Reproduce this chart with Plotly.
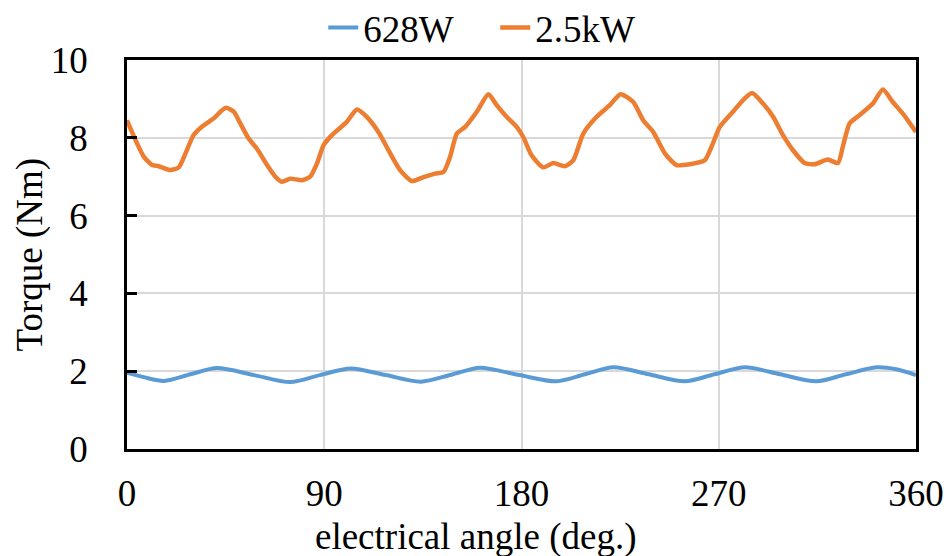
import plotly.graph_objects as go

# Electrical angle (deg.) and torque (Nm) for the two load cases
angle_628w = [0, 8, 17, 29, 41, 58, 74.5, 88, 102, 118, 134, 148, 161, 179, 196,
              209, 222, 238, 254.5, 268, 282, 298, 314.5, 328, 342, 351, 360]
torque_628w = [1.96, 1.84, 1.75, 1.92, 2.08, 1.90, 1.72, 1.90, 2.07, 1.90, 1.73,
               1.91, 2.09, 1.90, 1.74, 1.92, 2.10, 1.92, 1.74, 1.92, 2.10, 1.92,
               1.74, 1.92, 2.10, 2.05, 1.90]

angle_2k5w = [0, 3.9, 7.7, 11.5, 14.5, 19.8, 23.6, 26.7, 30.4, 35, 39.6, 42.6, 45.3,
              48.7, 51.7, 55.5, 59.3, 63.9, 67.7, 70.7, 74.5, 79.8, 83.6, 86.7, 89.7,
              93.5, 100.3, 104.9, 109.4, 114.7, 120.1, 124.6, 130, 135.3, 140.6,
              144.4, 147.4, 150.5, 154.3, 159.6, 164.9, 168.7, 173.2, 177.8, 180.8,
              184.6, 189.9, 194.5, 199.8, 203.6, 208.2, 214.3, 220.3, 225.2, 231,
              235.5, 240.1, 245.4, 250.7, 256.8, 263.6, 266.7, 270.5, 276.5, 281.1,
              285.2, 290.2, 294.8, 299.3, 303.9, 309.2, 313.7, 319.8, 324.4, 326.6,
              329.7, 334.2, 340.3, 344.9, 349.4, 354, 360]
torque_2k5w = [8.45, 7.94, 7.51, 7.30, 7.27, 7.17, 7.24, 7.60, 8.07, 8.32, 8.50, 8.67,
               8.77, 8.67, 8.37, 7.98, 7.72, 7.30, 7.00, 6.87, 6.95, 6.91, 7.00, 7.34,
               7.81, 8.07, 8.41, 8.73, 8.54, 8.15, 7.60, 7.17, 6.89, 6.99, 7.08, 7.12,
               7.51, 8.11, 8.28, 8.67, 9.12, 8.84, 8.54, 8.28, 8.02, 7.55, 7.24, 7.35,
               7.27, 7.42, 8.11, 8.54, 8.84, 9.12, 8.92, 8.45, 8.15, 7.60, 7.30, 7.32,
               7.42, 7.77, 8.28, 8.67, 8.97, 9.15, 8.88, 8.54, 8.07, 7.68, 7.35, 7.32,
               7.44, 7.35, 7.77, 8.37, 8.58, 8.88, 9.24, 8.92, 8.62, 8.15]

x_ticks = [0, 90, 180, 270, 360]
y_ticks = [0, 2, 4, 6, 8, 10]

FONT = "Liberation Serif"
W, H = 946, 556
L, R, T, B = 126.5, 29.5, 60, 107
PW, PH = W - L - R, H - T - B


def px_to_paper_x(px):
    return (px - L) / PW


def px_to_paper_y(py):
    return (H - B - py) / PH


fig = go.Figure()
fig.add_trace(go.Scatter(x=angle_628w, y=torque_628w, mode="lines", name="628W",
                         line=dict(color="#5B9BD5", width=4, shape="spline", smoothing=0.8)))
fig.add_trace(go.Scatter(x=angle_2k5w, y=torque_2k5w, mode="lines", name="2.5kW",
                         line=dict(color="#ED7D31", width=4.5, shape="spline", smoothing=0.6)))

fig.update_layout(
    width=W, height=H,
    margin=dict(l=L, r=R, t=T, b=B, autoexpand=False),
    paper_bgcolor="white", plot_bgcolor="white",
    font=dict(family=FONT, size=37, color="black"),
    showlegend=True,
    legend=dict(orientation="h", x=px_to_paper_x(323), xanchor="left",
                y=px_to_paper_y(28), yanchor="middle",
                font=dict(family=FONT, size=37), entrywidth=127,
                entrywidthmode="pixels", bgcolor="rgba(0,0,0,0)"),
    xaxis=dict(range=[0, 360], tickvals=x_ticks, ticks="", showgrid=True,
               gridcolor="#d9d9d9", gridwidth=1.5, showline=True, linecolor="black",
               linewidth=2.5, mirror=True, zeroline=False, ticklabelstandoff=10,
               automargin=False),
    yaxis=dict(range=[0, 10], tickvals=y_ticks, ticks="inside", ticklen=10,
               tickwidth=2.5, tickcolor="black", showgrid=True, gridcolor="#d9d9d9",
               gridwidth=1.5, showline=True, linecolor="black", linewidth=2.5,
               mirror=True, zeroline=False, ticklabelstandoff=29, automargin=False),
    annotations=[
        dict(text="electrical angle (deg.)", xref="paper", yref="paper",
             x=px_to_paper_x(476), y=px_to_paper_y(537), xanchor="center",
             yanchor="middle", showarrow=False, font=dict(family=FONT, size=37)),
        dict(text="Torque (Nm)", xref="paper", yref="paper",
             x=px_to_paper_x(29), y=px_to_paper_y(255), xanchor="center",
             yanchor="middle", textangle=-90, showarrow=False,
             font=dict(family=FONT, size=37)),
    ],
)

fig.write_html("out.html")
